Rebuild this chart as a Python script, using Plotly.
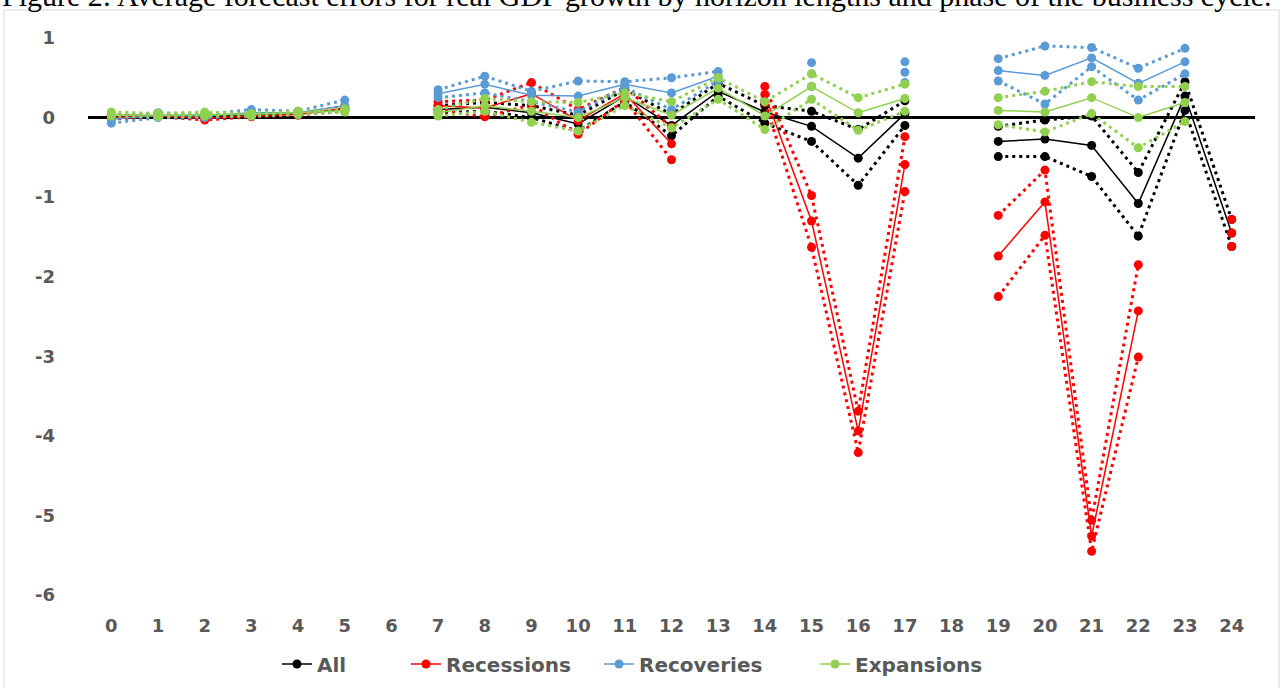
import plotly.graph_objects as go

# Forecast horizon (quarters); horizons 6 and 18 have no estimates
horizons = list(range(25))

# Average forecast error: mean and the two band estimates for each phase
all_mean = [0.01, 0.02, 0.02, 0.03, 0.05, 0.10, None, 0.10, 0.13, 0.06, -0.08, 0.27, -0.10, 0.33, 0.07,
            -0.11, -0.51, 0.05, None, -0.30, -0.27, -0.35, -1.08, 0.27, -1.45]
all_hi = [0.03, 0.03, 0.03, 0.04, 0.06, 0.12, None, 0.15, 0.19, 0.15, 0.03, 0.35, 0.04, 0.43, 0.15,
          0.08, -0.15, 0.21, None, -0.11, -0.03, 0.02, -0.69, 0.45, -1.28]
all_lo = [-0.01, 0.01, 0.01, 0.02, 0.04, 0.08, None, 0.06, 0.08, 0.00, -0.17, 0.20, -0.23, 0.27, -0.07,
          -0.30, -0.85, -0.10, None, -0.49, -0.49, -0.74, -1.49, 0.09, -1.62]

rec_mean = [0.00, 0.02, -0.01, 0.02, 0.04, 0.12, None, 0.15, 0.12, 0.30, -0.04, 0.30, -0.33, None, 0.29,
            -1.30, -3.94, -0.59, None, -1.74, -1.06, -5.26, -2.43, None, -1.45]
rec_hi = [0.01, 0.03, 0.00, 0.03, 0.05, 0.14, None, 0.20, 0.22, 0.44, 0.10, 0.38, -0.12, None, 0.39,
          -0.98, -3.69, -0.24, None, -1.23, -0.66, -5.06, -1.85, None, -1.28]
rec_lo = [-0.01, 0.01, -0.03, 0.01, 0.03, 0.10, None, 0.10, 0.01, 0.16, -0.21, 0.22, -0.53, None, 0.19,
          -1.63, -4.21, -0.93, None, -2.25, -1.48, -5.45, -3.01, None, -1.62]

recov_mean = [-0.02, 0.03, 0.02, 0.06, 0.06, 0.15, None, 0.30, 0.42, 0.28, 0.27, 0.42, 0.31, 0.52, None,
              0.55, None, 0.57, None, 0.59, 0.53, 0.75, 0.43, 0.70, None]
recov_hi = [0.03, 0.06, 0.04, 0.10, 0.08, 0.22, None, 0.35, 0.52, 0.33, 0.46, 0.45, 0.50, 0.58, None,
            0.69, None, 0.70, None, 0.74, 0.90, 0.88, 0.62, 0.87, None]
recov_lo = [-0.07, 0.00, 0.00, 0.02, 0.04, 0.10, None, 0.25, 0.31, 0.20, 0.07, 0.38, 0.10, 0.46, None,
            0.39, None, 0.44, None, 0.46, 0.17, 0.64, 0.22, 0.55, None]

exp_mean = [0.04, 0.03, 0.04, 0.04, 0.06, 0.09, None, 0.06, 0.15, 0.08, 0.00, 0.25, 0.03, 0.37, 0.02,
            0.39, 0.06, 0.24, None, 0.09, 0.07, 0.25, 0.00, 0.19, None]
exp_hi = [0.07, 0.05, 0.07, 0.05, 0.08, 0.11, None, 0.10, 0.24, 0.20, 0.19, 0.31, 0.20, 0.50, 0.20,
          0.55, 0.25, 0.42, None, 0.25, 0.33, 0.45, 0.39, 0.39, None]
exp_lo = [0.02, 0.01, 0.02, 0.02, 0.04, 0.07, None, 0.02, 0.08, -0.06, -0.17, 0.15, -0.13, 0.23, -0.15,
          0.23, -0.16, 0.08, None, -0.09, -0.18, 0.05, -0.38, -0.05, None]

series_names = ["All", "Recessions", "Recoveries", "Expansions"]
y_ticks = [1, 0, -1, -2, -3, -4, -5, -6]
title_text = ("Figure 2: Average forecast errors for real GDP growth by horizon lengths "
              "and phase of the business cycle.")

groups = [
    (series_names[0], all_mean, all_hi, all_lo, "#000000"),
    (series_names[1], rec_mean, rec_hi, rec_lo, "#FF0000"),
    (series_names[2], recov_mean, recov_hi, recov_lo, "#5B9BD5"),
    (series_names[3], exp_mean, exp_hi, exp_lo, "#92D050"),
]

# plot-area geometry in pixels
W, H = 1282, 688
L, R, T, B = 88, 27, 38, 93
PW, PH = W - L - R, H - T - B


def px_x(px):
    return (px - L) / PW


def px_y(py):
    return (H - B - py) / PH


fig = go.Figure()
legend_ids = ["legend", "legend2", "legend3", "legend4"]

for i, (name, mean, hi, lo, color) in enumerate(groups):
    for band in (hi, lo):
        fig.add_trace(go.Scatter(
            x=horizons, y=band, mode="lines+markers", showlegend=False,
            line=dict(color=color, width=3, dash="3px,4px"),
            marker=dict(color=color, size=9), connectgaps=False, hoverinfo="skip"))
    fig.add_trace(go.Scatter(
        x=horizons, y=mean, mode="lines+markers", name=name, legend=legend_ids[i],
        line=dict(color=color, width=1.5),
        marker=dict(color=color, size=9), connectgaps=False))

tick_font = dict(family="DejaVu Sans", size=18, color="#595959", weight="bold")
legend_font = dict(family="DejaVu Sans", size=20, color="#595959", weight="bold")

# one legend box per entry so each sits at its own spot along the bottom
legend_text_x = [318, 447, 640, 856]
layout_legends = {}
for lid, tx in zip(legend_ids, legend_text_x):
    layout_legends[lid] = dict(
        x=px_x(tx - 41), xanchor="left", y=px_y(664), yanchor="middle",
        orientation="h", font=legend_font, bgcolor="rgba(0,0,0,0)",
        itemwidth=30, tracegroupgap=0)

fig.update_layout(
    width=W, height=H,
    margin=dict(l=L, r=R, t=T, b=B, autoexpand=False),
    paper_bgcolor="white", plot_bgcolor="white",
    showlegend=True,
    xaxis=dict(range=[-0.5, 24.5], tickmode="array", tickvals=horizons,
               ticktext=[str(h) for h in horizons], showgrid=False, zeroline=False,
               showline=False, ticks="", tickfont=tick_font, ticklabelstandoff=18),
    yaxis=dict(range=[-6, 1], tickmode="array", tickvals=y_ticks,
               ticktext=[str(v) for v in y_ticks], showgrid=False, zeroline=True,
               zerolinecolor="#000000", zerolinewidth=3, showline=False, ticks="",
               tickfont=tick_font, ticklabelstandoff=32),
    shapes=[dict(type="rect", xref="paper", yref="paper",
                 x0=px_x(4), x1=px_x(1279), y0=px_y(700), y1=px_y(10),
                 line=dict(color="#D9D9D9", width=1), fillcolor="rgba(0,0,0,0)", layer="below")],
    annotations=[dict(text=title_text, xref="paper", yref="paper", x=px_x(0), xanchor="left",
                      y=px_y(-4), yanchor="middle", showarrow=False,
                      font=dict(family="Liberation Serif", size=30, color="#000000"))],
    **layout_legends,
)

fig.write_html("out.html")
